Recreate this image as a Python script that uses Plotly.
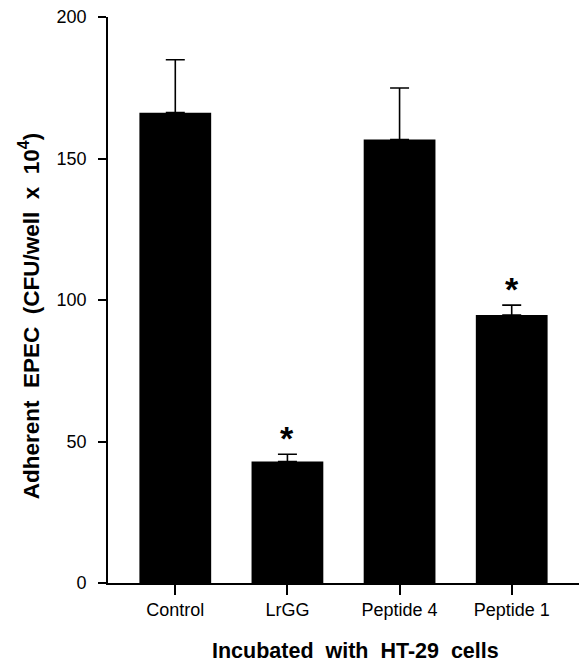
import plotly.graph_objects as go

categories = ["Control", "LrGG", "Peptide 4", "Peptide 1"]
values = [166.2, 42.9, 156.7, 94.7]
errors = [18.7, 2.6, 18.2, 3.5]
significant = [False, True, False, True]
y_ticks = [0, 50, 100, 150, 200]

FONT = "Liberation Sans, Arial, Helvetica, sans-serif"

fig = go.Figure()
fig.add_trace(go.Bar(
    x=categories, y=values,
    marker=dict(color="black", line=dict(width=0)),
    width=0.64,
    error_y=dict(type="data", symmetric=False, array=errors,
                 arrayminus=[0] * len(errors),
                 color="black", thickness=1.6, width=9.5),
))

for c, v, e, s in zip(categories, values, errors, significant):
    if s:
        fig.add_annotation(x=c, y=v + e, text="<b>*</b>", showarrow=False,
                           xanchor="center", yanchor="middle", yshift=16,
                           font=dict(family=FONT, size=34, color="black"))

fig.add_annotation(x=0.525, y=-0.12, xref="paper", yref="paper",
                   text="<b>Incubated&nbsp; with&nbsp; HT-29&nbsp; cells</b>", showarrow=False,
                   xanchor="center", yanchor="middle",
                   font=dict(family=FONT, size=21.5, color="black"))
fig.add_annotation(x=-0.166, y=0.471, xref="paper", yref="paper",
                   text="<b>Adherent&nbsp; EPEC&nbsp; (CFU/well&nbsp; x&nbsp; 10<sup>4</sup>)</b>",
                   showarrow=False, textangle=-90, xanchor="center", yanchor="middle",
                   font=dict(family=FONT, size=22.5, color="black"))

fig.update_layout(
    width=579, height=665,
    margin=dict(l=108, r=0, t=16.5, b=81.7),
    plot_bgcolor="white", paper_bgcolor="white",
    showlegend=False,
    font=dict(family=FONT, size=18, color="black"),
)
fig.update_xaxes(range=[-0.6, 3.6], showline=True, linecolor="black", linewidth=1.6,
                 ticks="outside", ticklen=10, tickwidth=1.6, tickcolor="black",
                 showgrid=False, zeroline=False, tickfont=dict(size=18))
fig.update_yaxes(range=[0, 200], tickvals=y_ticks, showline=True, linecolor="black",
                 linewidth=1.6, ticks="outside", ticklen=8, tickwidth=1.6,
                 tickcolor="black", showgrid=False, zeroline=False,
                 ticklabelstandoff=8, tickfont=dict(size=18))

fig.write_html("out.html", config={"displayModeBar": False},
               post_script="document.body.style.margin='0';")
